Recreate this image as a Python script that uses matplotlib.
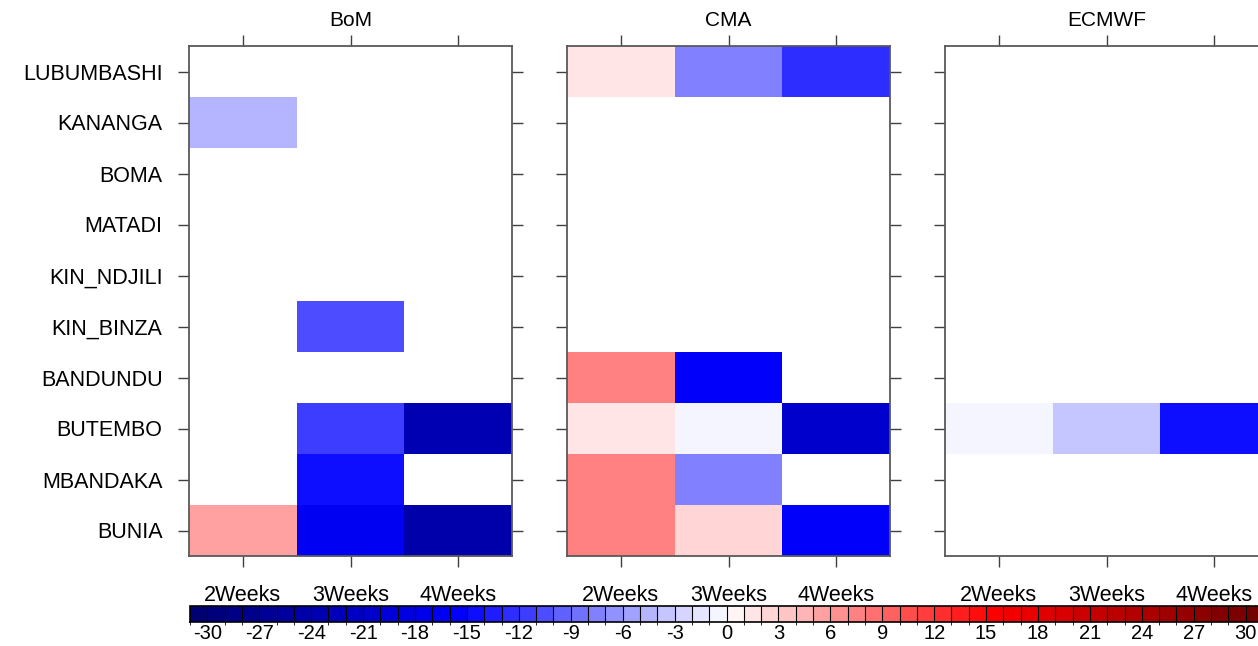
import numpy as np
import matplotlib
matplotlib.use("Agg")
import matplotlib.pyplot as plt
from matplotlib.colors import LinearSegmentedColormap, ListedColormap, BoundaryNorm
from matplotlib.cm import ScalarMappable

plt.rcParams['font.family'] = ['Liberation Sans', 'DejaVu Sans']

# stations, top to bottom
stations = ["LUBUMBASHI", "KANANGA", "BOMA", "MATADI", "KIN_NDJILI",
            "KIN_BINZA", "BANDUNDU", "BUTEMBO", "MBANDAKA", "BUNIA"]
leads = ["2Weeks", "3Weeks", "4Weeks"]
models = ["BoM", "CMA", "ECMWF"]

nan = np.nan
# values per station (rows) and lead (columns); nan = no value (white)
bom = [
    [nan, nan, nan],
    [-4.5, nan, nan],
    [nan, nan, nan],
    [nan, nan, nan],
    [nan, nan, nan],
    [nan, -10.5, nan],
    [nan, nan, nan],
    [nan, -11.5, -23.5],
    [nan, -14.5, nan],
    [5.5, -16.5, -24.5],
]
cma = [
    [1.5, -7.5, -12.5],
    [nan, nan, nan],
    [nan, nan, nan],
    [nan, nan, nan],
    [nan, nan, nan],
    [nan, nan, nan],
    [7.0, -15.5, nan],
    [1.5, -0.5, -20.5],
    [7.0, -7.5, nan],
    [7.0, 2.5, -15.5],
]
ecmwf = [
    [nan, nan, nan],
    [nan, nan, nan],
    [nan, nan, nan],
    [nan, nan, nan],
    [nan, nan, nan],
    [nan, nan, nan],
    [nan, nan, nan],
    [-0.5, -3.5, -14.5],
    [nan, nan, nan],
    [nan, nan, nan],
]
panels = [bom, cma, ecmwf]

bounds = np.arange(-31, 32, 1)
cbar_ticks = np.arange(-30, 31, 3)

base = LinearSegmentedColormap.from_list(
    "bwr_ncl",
    [(0.0, (0.0, 0.0, 0.45)), (0.25, (0.0, 0.0, 1.0)), (0.5, (1.0, 1.0, 1.0)),
     (0.75, (1.0, 0.0, 0.0)), (1.0, (0.45, 0.0, 0.0))])
cmap = ListedColormap(base(np.linspace(0, 1, len(bounds) - 1)))
norm = BoundaryNorm(bounds, cmap.N)

W, H = 1258, 646
fig = plt.figure(figsize=(W / 100, H / 100), dpi=100)

lefts = [189, 567, 945]
pw, top, bot = 323, 46, 556

for i, (data, name) in enumerate(zip(panels, models)):
    ax = fig.add_axes([lefts[i] / W, (H - bot) / H, pw / W, (bot - top) / H])
    z = np.ma.masked_invalid(np.array(data, dtype=float))
    ax.pcolormesh(np.arange(len(leads) + 1), np.arange(len(stations) + 1), z,
                  cmap=cmap, norm=norm, edgecolors='none')
    ax.set_xlim(0, len(leads))
    ax.set_ylim(len(stations), 0)
    ax.set_xticks(np.arange(len(leads)) + 0.5)
    ax.set_xticklabels(leads, fontsize=15.5)
    ax.set_yticks(np.arange(len(stations)) + 0.5)
    if i == 0:
        ax.set_yticklabels(stations, fontsize=15.5)
    else:
        ax.set_yticklabels([])
    ax.tick_params(axis='x', direction='out', length=8, width=1, color='0.25',
                   top=True, bottom=True, pad=13)
    ax.tick_params(axis='y', direction='out', length=8, width=1, color='0.25',
                   left=True, right=True, pad=11)
    for s in ax.spines.values():
        s.set_color('0.35')
        s.set_linewidth(1.3)
    ax.text(0.5, 1 + 26 / (bot - top), name, transform=ax.transAxes,
            ha='center', va='center', fontsize=15)

cax = fig.add_axes([190 / W, (H - 622) / H, 1073 / W, 16 / H])
cb = fig.colorbar(ScalarMappable(norm=norm, cmap=cmap), cax=cax,
                  orientation='horizontal', ticks=cbar_ticks, drawedges=True)
cb.outline.set_linewidth(1.2)
cb.dividers.set_color('black')
cb.dividers.set_linewidth(0.8)
cax.tick_params(length=0, labelsize=14.5, pad=1.5)
cax.set_xticklabels([str(t) for t in cbar_ticks])

fig.savefig("out.png", dpi=100)
